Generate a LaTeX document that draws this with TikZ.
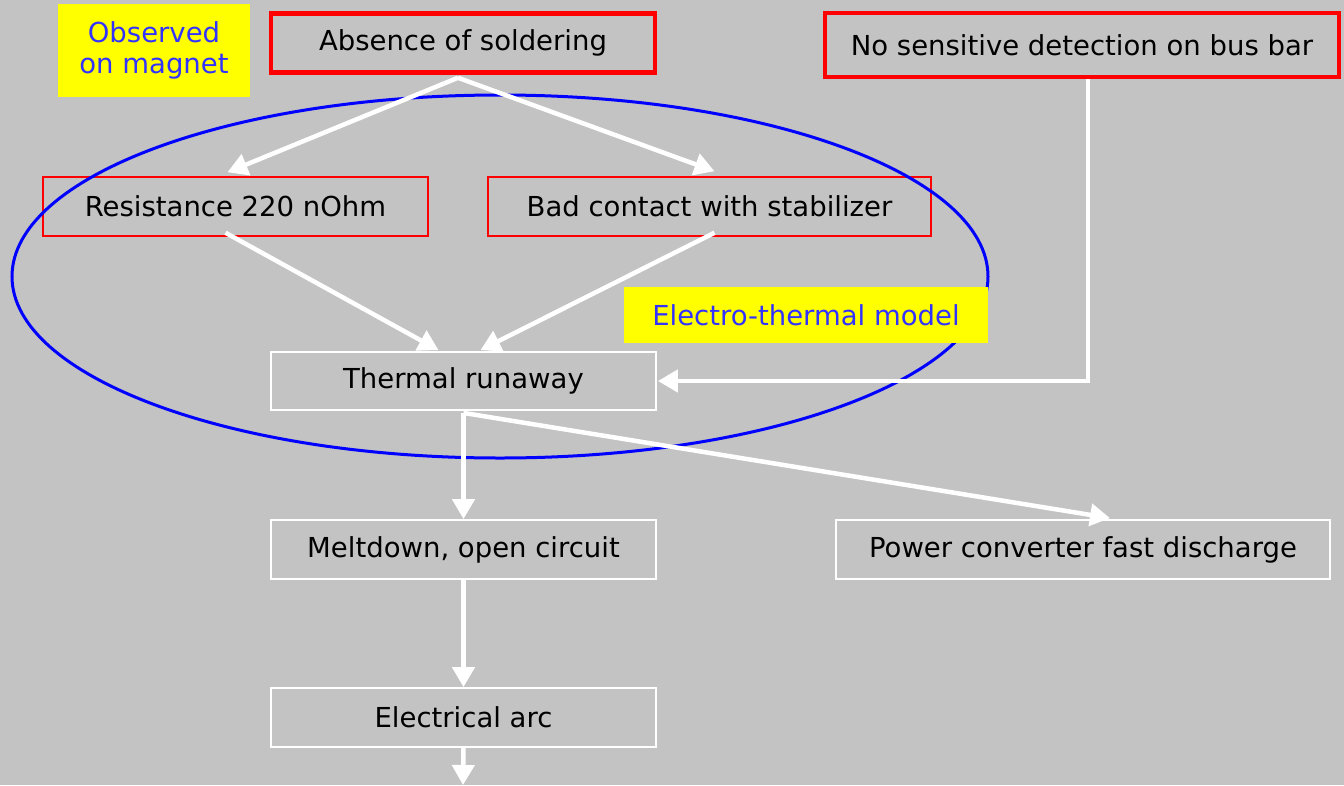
\documentclass[tikz,border=0pt]{standalone}
\usepackage{fontspec}
\setmainfont{DejaVu Sans}
\usetikzlibrary{arrows.meta,calc}
\definecolor{bg}{HTML}{C3C3C3}
\definecolor{txtblue}{HTML}{3333FF}
\definecolor{yel}{HTML}{FFFF00}
\begin{document}
\begin{tikzpicture}[x=1pt,y=-1pt,
  lbl/.style={font=\fontsize{27.5}{31}\selectfont, inner sep=0pt, align=center},
  redthick/.style={lbl, draw=red, line width=4.5pt},
  redthin/.style={lbl, draw=red, line width=1.5pt},
  whitebox/.style={lbl, draw=white, line width=1.8pt},
  yellowbox/.style={lbl, fill=yel, text=txtblue},
  arr/.style={draw=white, line width=4.5pt, -{Triangle[length=20pt,width=22pt]}},
  plain/.style={draw=white, line width=4.5pt}
]
\fill[bg] (0,0) rectangle (1344,785);
\useasboundingbox (0,0) rectangle (1344,785);

\node[yellowbox, minimum width=192pt, minimum height=93pt] (obs) at (154,50.5) {Observed\\on magnet};
\node[redthick, minimum width=384pt, minimum height=59pt] (abs) at (463,43) {Absence of soldering};
\node[redthick, minimum width=514pt, minimum height=64pt] (bus) at (1082,45) {No sensitive detection on bus bar};
\node[redthin, minimum width=385pt, minimum height=59pt] (res) at (235.5,206.5) {Resistance 220 nOhm};
\node[redthin, minimum width=443pt, minimum height=59pt] (bad) at (709.5,206.5) {Bad contact with stabilizer};
\node[whitebox, minimum width=385pt, minimum height=58pt] (therm) at (463.5,381) {Thermal runaway};
\node[whitebox, minimum width=385pt, minimum height=59pt] (melt) at (463.5,549.5) {Meltdown, open circuit};
\node[whitebox, minimum width=494pt, minimum height=59pt] (pow) at (1083,549.5) {Power converter fast discharge};
\node[whitebox, minimum width=385pt, minimum height=59pt] (arc) at (463.5,717.5) {Electrical arc};

\draw[blue, line width=3pt] (500,276.5) ellipse [x radius=488, y radius=181.5];

\node[yellowbox, minimum width=364pt, minimum height=56pt] (etm) at (806,315) {Electro-thermal model};

\coordinate (fork) at ($(abs.south)+(-5,3)$);
\coordinate (tfork) at ($(therm.south)+(0,2)$);
\coordinate (bend) at (1088,381);
\coordinate (out) at (463,785);

\draw[arr] (fork) -- ($(res.north)+(-8,-4)$);
\draw[arr] (fork) -- ($(bad.north)+(5,-5)$);
\draw[arr] ($(res.south)+(-10,-4)$) -- ($(therm.north)+(-25,-1)$);
\draw[arr] ($(bad.south)+(5,-4)$) -- ($(therm.north)+(17,-1)$);
\draw[arr] (bus.south -| bend) -- (bend) -- ($(therm.east)+(1,0)$);
\draw[arr] (tfork) -- (melt.north);
\draw[arr] (tfork) -- ($(pow.north)+(27,-1)$);
\draw[arr] (melt.south) -- (arc.north);
\draw[arr] (arc.south) -- (out);
\end{tikzpicture}
\end{document}
